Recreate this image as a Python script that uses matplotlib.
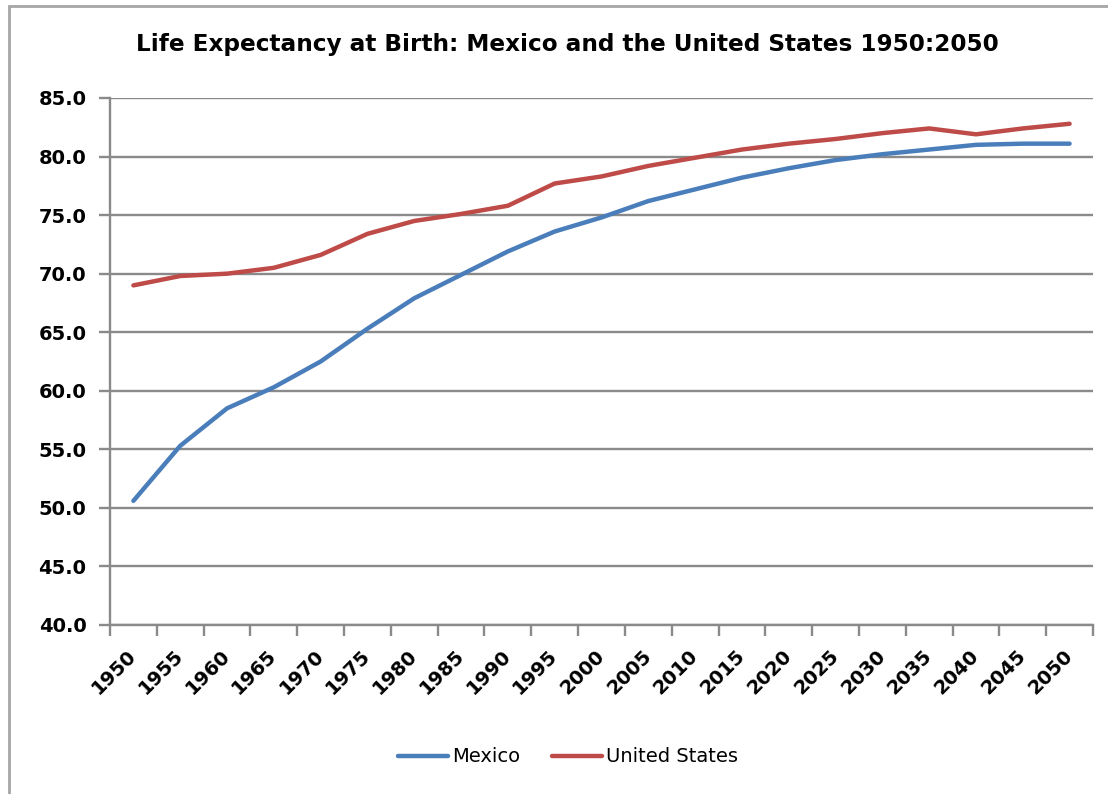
import matplotlib.pyplot as plt
from matplotlib.patches import Rectangle

# data
years = ['1950', '1955', '1960', '1965', '1970', '1975', '1980', '1985', '1990', '1995', '2000',
         '2005', '2010', '2015', '2020', '2025', '2030', '2035', '2040', '2045', '2050']
mexico = [50.6, 55.3, 58.5, 60.3, 62.5, 65.3, 67.9, 69.9, 71.9, 73.6, 74.8,
          76.2, 77.2, 78.2, 79.0, 79.7, 80.2, 80.6, 81.0, 81.1, 81.1]
usa = [69.0, 69.8, 70.0, 70.5, 71.6, 73.4, 74.5, 75.1, 75.8, 77.7, 78.3,
       79.2, 79.9, 80.6, 81.1, 81.5, 82.0, 82.4, 81.9, 82.4, 82.8]
yticks = [40, 45, 50, 55, 60, 65, 70, 75, 80, 85]

plt.rcParams['font.family'] = 'DejaVu Sans'

fig = plt.figure(figsize=(11.08, 7.94), dpi=100)
ax = fig.add_axes([110 / 1108, 1 - 625 / 794, (1093 - 110) / 1108, (625 - 98) / 794])

x = list(range(len(years)))
ax.plot(x, mexico, color='#4A7EBB', lw=3.2, label='Mexico', solid_capstyle='round')
ax.plot(x, usa, color='#BE4B48', lw=3.2, label='United States', solid_capstyle='round')

ax.set_xlim(-0.5, len(years) - 0.5)
ax.set_ylim(40, 85)

# gridlines and axes in Excel style
grid_c = '#8a8a8a'
ax.set_yticks(yticks)
ax.set_yticklabels([f'{v:.1f}' for v in yticks], fontsize=14, fontweight='bold')
ax.yaxis.grid(True, color=grid_c, lw=1.7)
ax.set_axisbelow(True)
for s in ['top', 'right']:
    ax.spines[s].set_visible(False)
for s in ['left', 'bottom']:
    ax.spines[s].set_color(grid_c)
    ax.spines[s].set_linewidth(1.7)
ax.tick_params(axis='y', length=8, width=1.7, color=grid_c, pad=9)

# tick marks at category boundaries, labels at the centres
ax.set_xticks([i - 0.5 for i in range(len(years) + 1)])
ax.set_xticklabels([])
ax.tick_params(axis='x', which='major', length=8, width=1.7, color=grid_c)
ax.set_xticks(x, minor=True)
ax.set_xticklabels(years, minor=True, fontsize=14, fontweight='bold', rotation=45,
                   ha='right', va='center', rotation_mode='anchor')
ax.tick_params(axis='x', which='minor', length=0, pad=20)

fig.text(567 / 1108, 1 - 45 / 794, 'Life Expectancy at Birth: Mexico and the United States 1950:2050',
         ha='center', va='center', fontsize=16.7, fontweight='bold')

fig.legend(loc='center', bbox_to_anchor=(568 / 1108, 1 - 757 / 794), ncol=2, frameon=False,
           fontsize=14, handlelength=2.6, handletextpad=0.2, columnspacing=1.6)

# outer chart border
fig.patches.append(Rectangle((9 / 1108, -0.1), 1.2, 1.1 - 5.5 / 794, transform=fig.transFigure,
                             fill=False, edgecolor='#a6a6a6', lw=2))

plt.savefig('out.png', dpi=100)
